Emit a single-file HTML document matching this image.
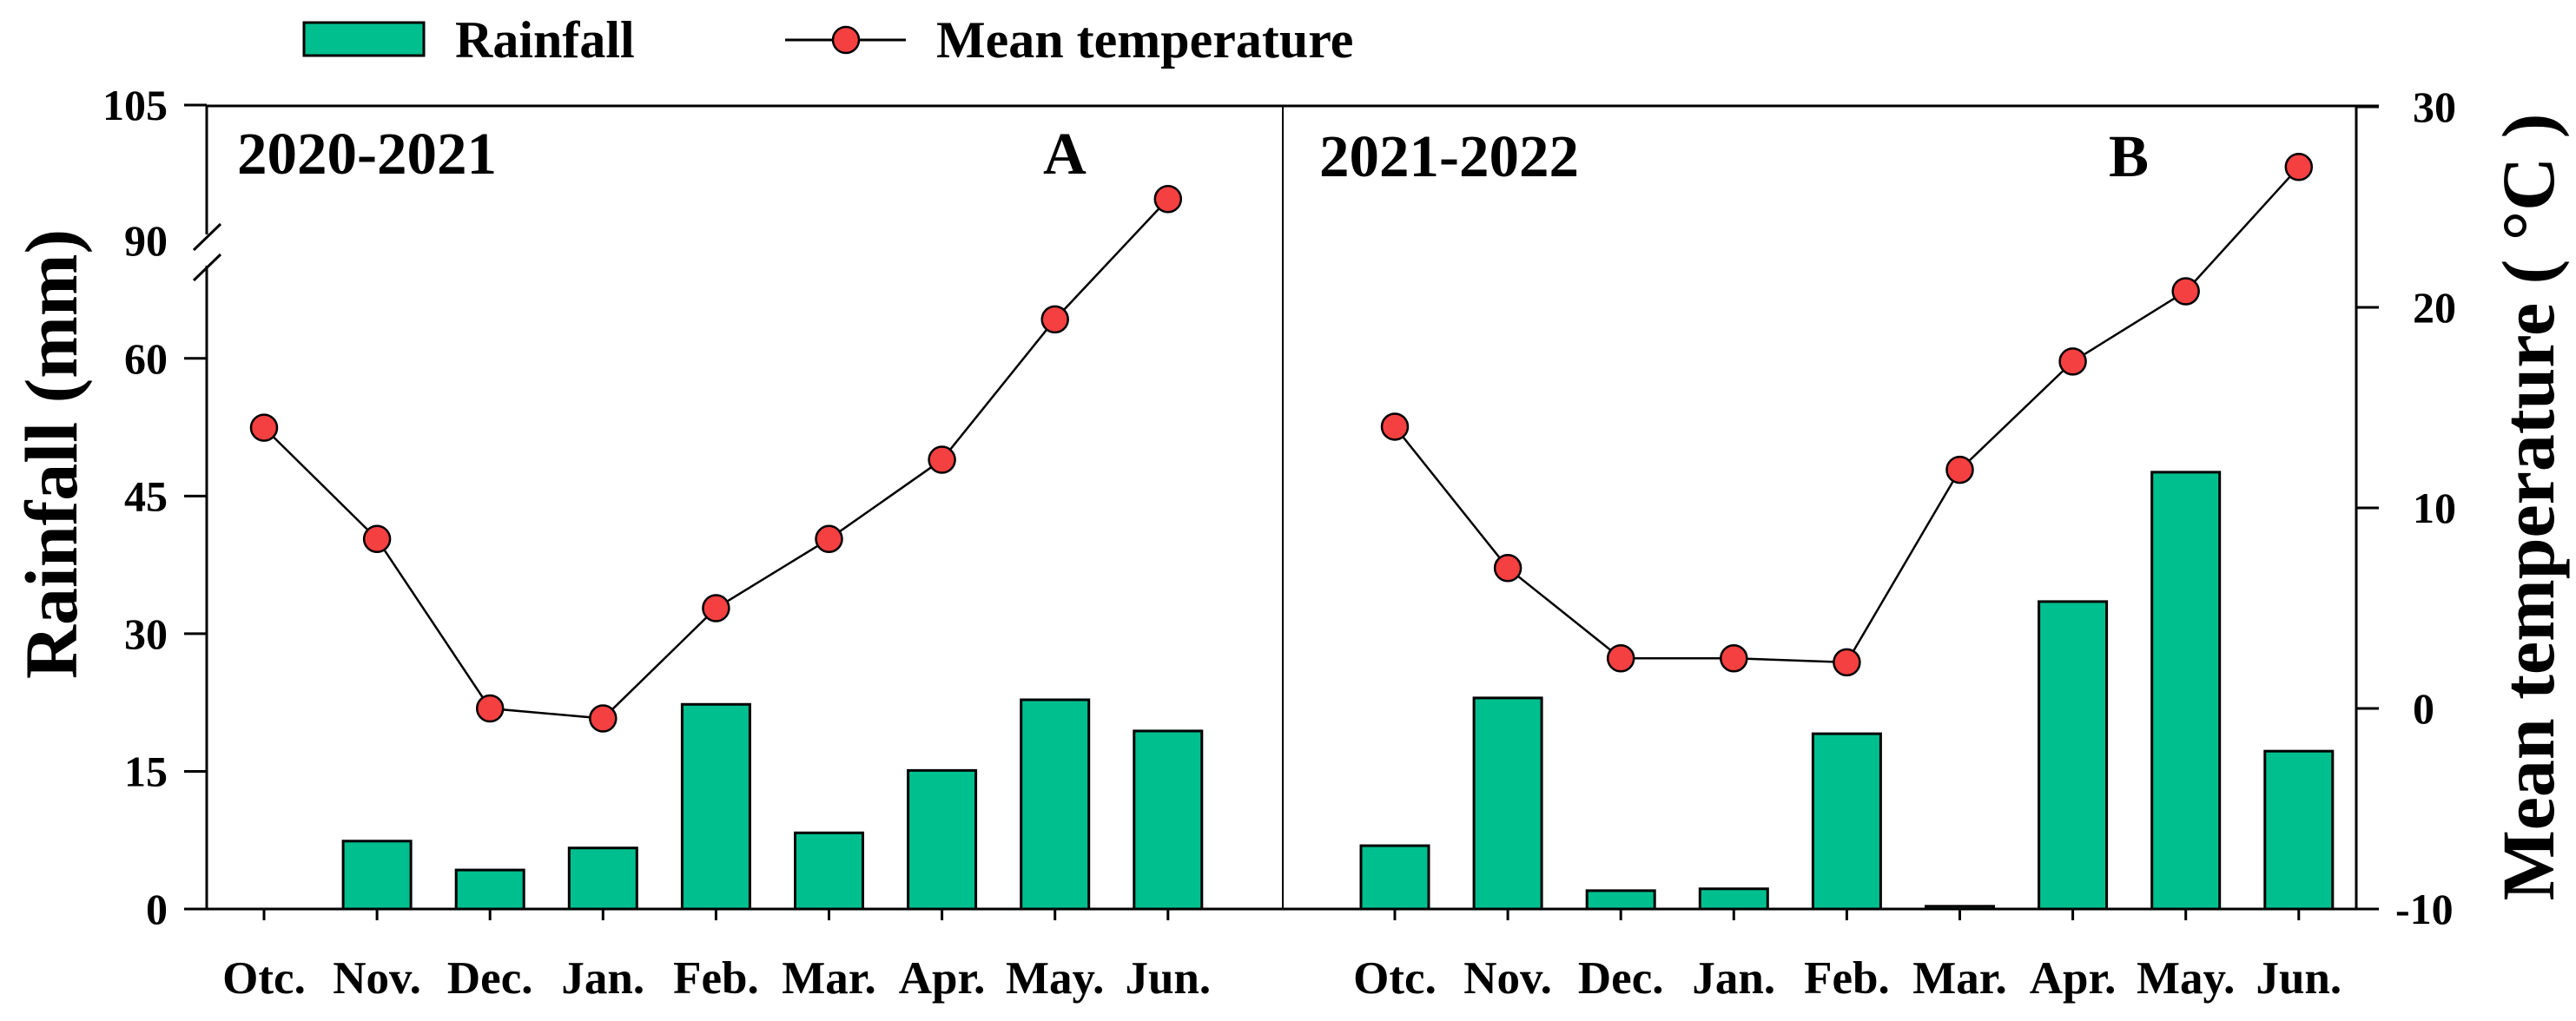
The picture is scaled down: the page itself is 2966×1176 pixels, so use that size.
<!DOCTYPE html>
<html><head><meta charset="utf-8"><style>
html,body{margin:0;padding:0;background:#fff;}
svg{display:block;font-family:"Liberation Serif",serif;font-weight:bold;}
</style></head><body>
<svg id="chart" width="2966" height="1176" viewBox="0 0 2966 1176" xmlns="http://www.w3.org/2000/svg">
<g>
<rect x="350" y="26" width="138" height="38" fill="#00BF8F" stroke="#000" stroke-width="3"/>
<text x="524" y="66" font-size="60">Rainfall</text>
<line x1="904" y1="46" x2="1043" y2="46" stroke="#000" stroke-width="3"/>
<circle cx="974" cy="46" r="15" fill="#F44040" stroke="#000" stroke-width="2.5"/>
<text x="1078" y="66" font-size="60">Mean temperature</text>
</g>
<g id="frame"></g>
<g id="bars"></g>
<g id="lines"></g>
<text font-size="86" text-anchor="middle" transform="translate(88,523) rotate(-90)">Rainfall (mm)</text>
<text font-size="86" text-anchor="middle" transform="translate(2940,584) rotate(-90)">Mean temperature ( °C )</text>
<text x="273" y="200" font-size="69">2020-2021</text>
<text x="1201" y="200" font-size="69">A</text>
<text x="1519" y="203" font-size="69">2021-2022</text>
<text x="2428" y="203" font-size="69">B</text>
</svg>
<script>
const months = ["Otc.","Nov.","Dec.","Jan.","Feb.","Mar.","Apr.","May.","Jun."];
const rainA = [0, 7.4, 4.25, 6.65, 22.3, 8.3, 15.1, 22.8, 19.4];
const rainB = [6.9, 23.0, 2.0, 2.2, 19.1, 0.3, 33.5, 47.6, 17.2];
const tempA = [14.0, 8.45, 0.0, -0.5, 5.0, 8.45, 12.4, 19.4, 25.4];
const tempB = [14.05, 7.0, 2.5, 2.5, 2.3, 11.9, 17.3, 20.8, 27.0];
const leftTicks = [0, 15, 30, 45, 60];
const leftTicksUpper = [90, 105];
const rightTicks = [-10, 0, 10, 20, 30];

const NS = "http://www.w3.org/2000/svg";
function mk(parent, tag, attrs, txt){
  const e = document.createElementNS(NS, tag);
  for (const k in attrs) e.setAttribute(k, attrs[k]);
  if (txt !== undefined) e.textContent = txt;
  parent.appendChild(e);
  return e;
}
const X0 = 238, XD = 1477, XR = 2713, YT = 122, YB = 1047;
const yRain = v => v <= 70 ? YB - v * 10.57 : 277 - (v - 90) * 10.4;
const yTemp = t => YB - (t + 10) * 23.1;
const xA = i => 304 + i * 130.1;
const xB = i => 1606 + i * 130.1;

const frame = document.getElementById('frame');
let l;
l = mk(frame, 'line', {x1: X0, y1: YT, x2: 2739, y2: YT, stroke: '#000', 'stroke-width': 3});


l = mk(frame, 'line', {x1: 212, y1: YB, x2: 2739, y2: YB, stroke: '#000', 'stroke-width': 3});


l = mk(frame, 'line', {x1: X0, y1: YT, x2: X0, y2: 270, stroke: '#000', 'stroke-width': 3});


l = mk(frame, 'line', {x1: X0, y1: 306, x2: X0, y2: YB, stroke: '#000', 'stroke-width': 3});


l = mk(frame, 'line', {x1: 223, y1: 288, x2: 254, y2: 258, stroke: '#000', 'stroke-width': 3});


l = mk(frame, 'line', {x1: 223, y1: 323, x2: 254, y2: 293, stroke: '#000', 'stroke-width': 3});


l = mk(frame, 'line', {x1: XD, y1: YT, x2: XD, y2: YB, stroke: '#000', 'stroke-width': 2});


l = mk(frame, 'line', {x1: XR, y1: YT, x2: XR, y2: YB, stroke: '#000', 'stroke-width': 3});



leftTicks.concat(leftTicksUpper).forEach(v => {
  const y = yRain(v);
  if (v !== 90) {
    const t = mk(frame, 'line', {x1: 212, y1: y, x2: X0, y2: y, stroke: '#000', 'stroke-width': 3});
    
    
  }
  const tx = mk(frame, 'text', {x: 193, y: y + 17, 'font-size': 50, 'text-anchor': 'end'}, String(v));
  
  
});
rightTicks.forEach(v => {
  const y = yTemp(v);
  const t = mk(frame, 'line', {x1: XR, y1: y, x2: 2739, y2: y, stroke: '#000', 'stroke-width': 3});
  
  
  const tx = mk(frame, 'text', {x: v < 0 ? 2758 : 2778, y: y + 17, 'font-size': 50}, String(v));
  
  
});

const bars = document.getElementById('bars');
const lines = document.getElementById('lines');
function panel(xf, rain, temp, tag){
  months.forEach((m, i) => {
    const x = xf(i);
    const t = mk(frame, 'line', {x1: x, y1: YB, x2: x, y2: YB + 13, stroke: '#000', 'stroke-width': 3});
    
    
    const lb = mk(frame, 'text', {x: x, y: 1144, 'font-size': 53, 'text-anchor': 'middle'}, m);
    
    
    if (rain[i] > 0) {
      const y = yRain(rain[i]);
      const b = mk(bars, 'rect', {x: x - 39, y: y, width: 78, height: YB - y, fill: '#00BF8F', stroke: '#000', 'stroke-width': 3});
      
      
    }
  });
  const pts = temp.map((v, i) => xf(i) + ',' + yTemp(v)).join(' ');
  const pl = mk(lines, 'polyline', {points: pts, fill: 'none', stroke: '#000', 'stroke-width': 2.5});
  
  
  temp.forEach((v, i) => {
    const c = mk(lines, 'circle', {cx: xf(i), cy: yTemp(v), r: 15, fill: '#F44040', stroke: '#000', 'stroke-width': 2.5});
    
    
  });
}
panel(xA, rainA, tempA, 'a');
panel(xB, rainB, tempB, 'b');
</script>
</body></html>
